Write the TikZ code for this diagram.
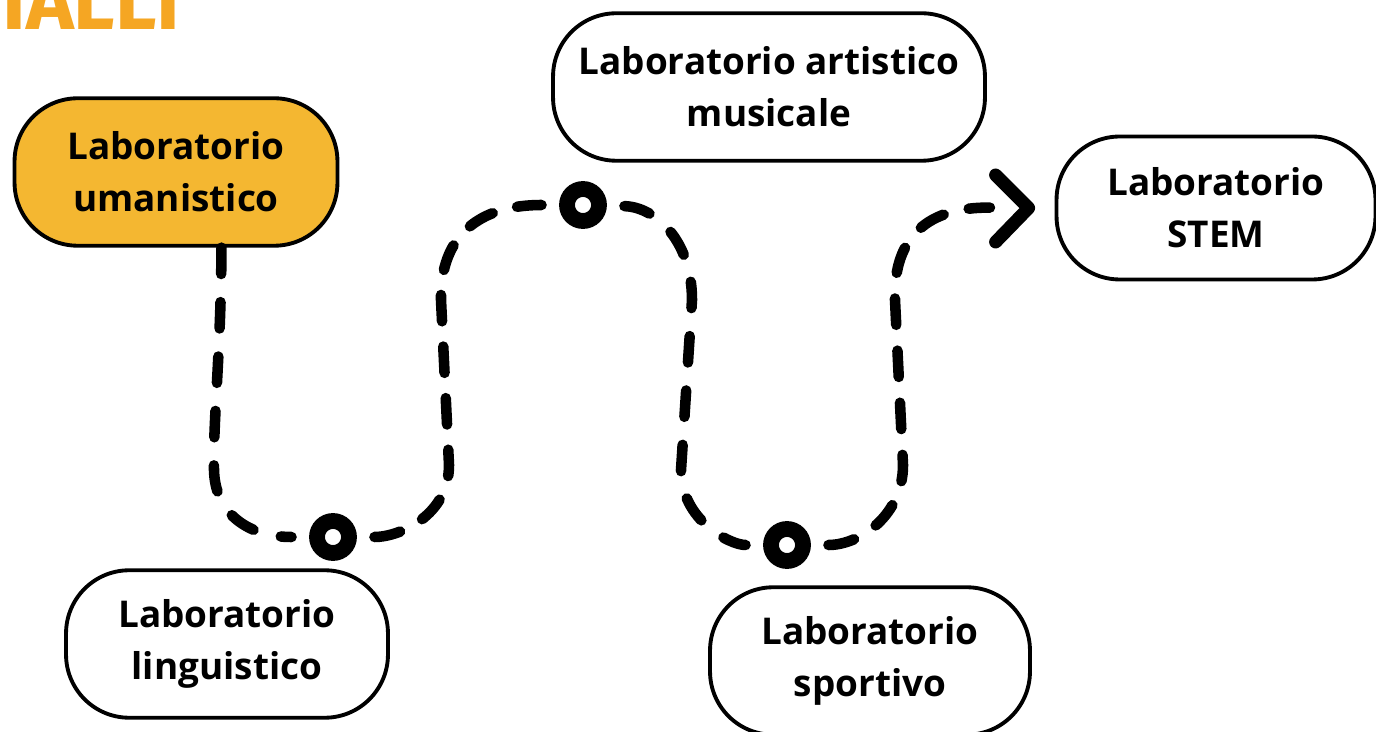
\documentclass[tikz,border=0pt]{standalone}
\usepackage{fontspec}
\setmainfont{Open Sans}
\newfontfamily\titolofont{Fira Sans}
\usepackage{tikz}
\definecolor{labyellow}{RGB}{244,183,49}
\definecolor{laborange}{RGB}{245,166,35}
\tikzset{
    labbox/.style={
        draw=black,
        line width=2.2pt,
        rounded corners=36pt,
        minimum height=2.95cm,
        inner sep=0pt,
        align=center,
        font=\fontsize{21}{29.5}\selectfont\bfseries
    },
    tappa/.style={
        circle,
        draw=black,
        fill=white,
        line width=9pt,
        minimum size=0.64cm,
        inner sep=0pt
    },
    sentiero/.style={
        line width=6pt,
        line cap=round,
        dash pattern=on 15pt off 16pt
    }
}

\begin{document}
\begin{tikzpicture}[x=0.02cm, y=-0.02cm]
            \useasboundingbox (0,0) rectangle (1376,732);
            % titolo tagliato in alto
            \node[
                text=laborange,
                anchor=base west,
                inner sep=0pt,
                font=\titolofont\fontsize{46}{46}\selectfont\bfseries
            ] (titolo) at (2,30) {IALLI};
            % laboratori
            \node[labbox, fill=labyellow, minimum width=6.46cm] (uman) at (176,172) {Laboratorio\\umanistico};
            \node[labbox, fill=white, minimum width=6.44cm] (ling) at (227,644) {Laboratorio\\linguistico};
            \node[labbox, fill=white, minimum width=8.64cm] (arte) at (769,87) {Laboratorio artistico\\musicale};
            \node[labbox, fill=white, minimum width=6.40cm] (sport) at (870,661) {Laboratorio\\sportivo};
            \node[labbox, fill=white, minimum width=6.38cm, minimum height=2.86cm] (stem) at (1216,208) {Laboratorio\\STEM};
            % tappe del percorso
            \node[tappa] (c1) at (333,537) {};
            \node[tappa] (c2) at (583,205) {};
            \node[tappa] (c3) at (787,545) {};
            \coordinate (punta) at ([xshift=-0.52cm]stem.west);
            % percorso tratteggiato
            \draw[sentiero, shorten >=10pt] (uman.-59) .. controls (221,350) and (213,420) .. (214,470)
                .. controls (215,515) and (250,537) .. (c1);
            \draw[sentiero, dash pattern=on 15pt off 14.4pt, shorten <=10pt, shorten >=10pt] (c1) .. controls (400,537) and (449,515) .. (449,465)
                -- (441,300) .. controls (440,235) and (480,205) .. (c2);
            \draw[sentiero, shorten <=10pt, shorten >=10pt] (c2) .. controls (655,207) and (692,240) .. (692,300)
                -- (681,470) .. controls (681,520) and (730,545) .. (c3);
            \draw[sentiero, dash pattern=on 15pt off 14.7pt, shorten <=10pt, shorten >=22pt] (c3) .. controls (860,545) and (903,515) .. (903,465)
                -- (895,300) .. controls (893,235) and (930,207) .. (punta);
            \draw[line width=7.4pt, line cap=round, line join=round]
                ([shift={(-33,-33)}]punta) -- (punta) -- ([shift={(-33,34)}]punta);
        \end{tikzpicture}
\end{document}
